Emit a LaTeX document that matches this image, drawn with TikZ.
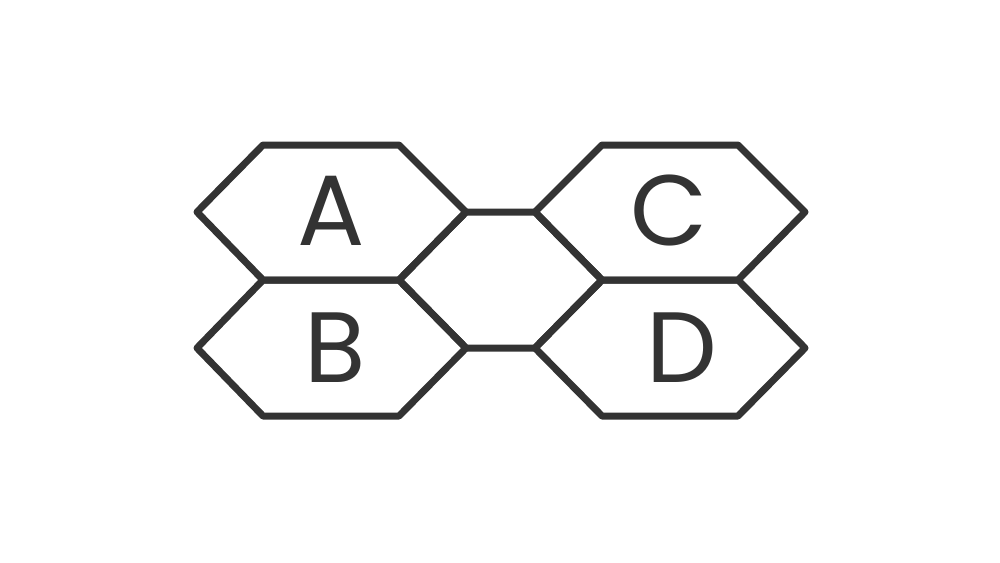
\documentclass[tikz,border=0pt]{standalone}
\usepackage{fontspec}
\newfontfamily\letterfont{Poppins}
\definecolor{ink}{HTML}{333333}
\begin{document}
\begin{tikzpicture}[x=1pt,y=-1pt,
  hex/.style={draw=ink,line width=7pt,line join=round},
  letter/.style={text=ink,font=\letterfont\fontsize{100}{100}\selectfont,anchor=base,inner sep=0pt}]
\useasboundingbox (0,0) rectangle (1000,562);
% hexagon A
\draw[hex] (197,212) -- (263,145) -- (399,145) -- (466,212) -- (399,280) -- (263,280) -- cycle;
% hexagon B
\draw[hex] (197,348) -- (263,280) -- (399,280) -- (466,348) -- (399,416) -- (263,416) -- cycle;
% central hexagon
\draw[hex] (466,212) -- (535,212) -- (602,280) -- (535,348) -- (466,348) -- (399,280) -- cycle;
% hexagon C
\draw[hex] (535,212) -- (602,145) -- (738,145) -- (805,212) -- (738,280) -- (602,280) -- cycle;
% hexagon D
\draw[hex] (535,348) -- (602,280) -- (738,280) -- (805,348) -- (738,416) -- (602,416) -- cycle;
\node[letter] (A) at (331,245) {A};
\node[letter] (B) at (335,382) {B};
\node[letter] (C) at (669,245) {C};
\node[letter] (D) at (682,382) {D};
\end{tikzpicture}
\end{document}
